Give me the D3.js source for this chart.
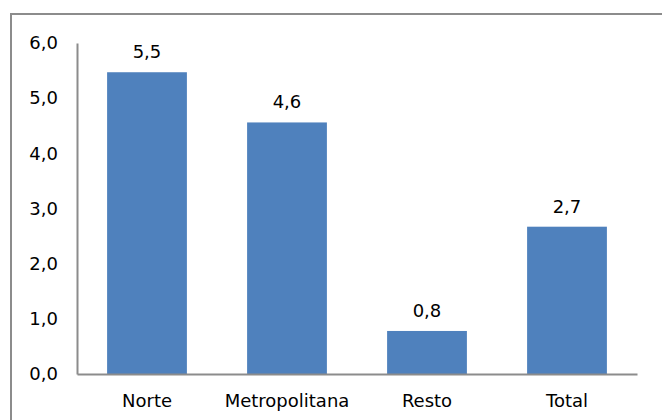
<!DOCTYPE html>
<html><head><meta charset="utf-8">
<script src="https://cdn.jsdelivr.net/npm/d3@7"></script>
<style>body{margin:0;background:#fff}svg{display:block}</style>
</head><body>
<script>
const categories = ["Norte", "Metropolitana", "Resto", "Total"];
const values = [5.47, 4.56, 0.78, 2.67];
const yTicks = [0, 1, 2, 3, 4, 5, 6];

(function () {
const W = 662, H = 420;
const svg = d3.select("body").append("svg").attr("width", W).attr("height", H);
const font = "DejaVu Sans, Verdana, sans-serif";
const fs = 18;

svg.append("rect").attr("x", 11).attr("y", 14).attr("width", 700).attr("height", 500)
  .attr("fill", "#fff").attr("stroke", "#8c8c8c").attr("stroke-width", 2);

const mLeft = 77, mRight = 637, mTop = 43, mBottom = 374;
const x = d3.scaleBand().domain(categories).range([mLeft, mRight]).paddingInner(0.43).paddingOuter(0.215);
const y = d3.scaleLinear().domain([0, 6]).range([mBottom, mTop]);

const fmt = v => v.toFixed(1).replace(".", ",");

svg.selectAll("rect.bar").data(categories).enter().append("rect")
  .attr("class", "bar")
  .attr("x", d => x(d)).attr("width", x.bandwidth())
  .attr("y", (d, i) => y(values[i])).attr("height", (d, i) => y(0) - y(values[i]))
  .attr("fill", "#4F81BD");

svg.selectAll("text.val").data(categories).enter().append("text")
  .attr("x", d => x(d) + x.bandwidth() / 2)
  .attr("y", (d, i) => y(values[i]) - 14)
  .attr("text-anchor", "middle").attr("font-family", font).attr("font-size", fs).attr("fill", "#000")
  .text((d, i) => fmt(values[i]));

const yAxis = d3.axisLeft(y).tickValues(yTicks).tickSize(0).tickPadding(19).tickFormat(fmt);
const gy = svg.append("g").attr("transform", `translate(${mLeft},0)`).call(yAxis);
gy.select(".domain").attr("stroke", "#8c8c8c").attr("stroke-width", 2);
gy.selectAll("text").attr("font-family", font).attr("font-size", fs).attr("fill", "#000");

const xAxis = d3.axisBottom(x).tickSize(0).tickPadding(20);
const gx = svg.append("g").attr("transform", `translate(0,${mBottom})`).call(xAxis);
gx.select(".domain").attr("stroke", "#8c8c8c").attr("stroke-width", 2);
gx.selectAll("text").attr("font-family", font).attr("font-size", fs).attr("fill", "#000");
})();
</script>
</body></html>
